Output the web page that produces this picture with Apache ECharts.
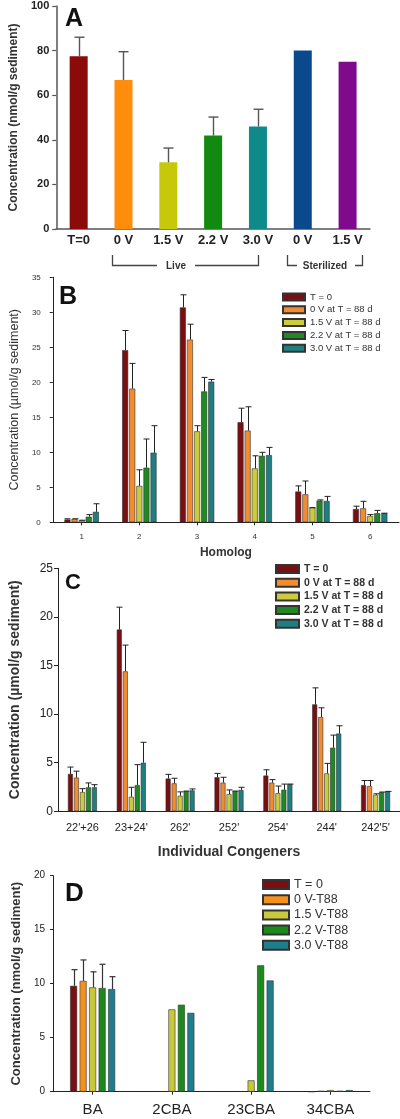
<!DOCTYPE html>
<html><head><meta charset="utf-8">
<script src="https://cdn.jsdelivr.net/npm/echarts@6/dist/echarts.min.js"></script>
<style>html,body{margin:0;padding:0;background:#fff}#c{width:400px;height:1119px}</style>
</head><body><div id="c"></div>
<script>
// ---------- DATA ----------
// Panel A
const catsA = ['T=0', '0 V', '1.5 V', '2.2 V', '3.0 V', '0 V', '1.5 V'];
const valsA = [77.5, 66.8, 29.9, 41.9, 46.0, 80.0, 75.0];
const errHiA = [86.0, 79.5, 36.3, 50.2, 53.7, null, null];
const ticksA = [0, 20, 40, 60, 80, 100];

// Panel B (homologs)
const catsB = ['1', '2', '3', '4', '5', '6'];
const namesBC = ['T = 0', '0 V at T = 88 d', '1.5 V at T = 88 d', '2.2 V at T = 88 d', '3.0 V at T = 88 d'];
const bT0 = [0.4, 24.6, 30.7, 14.3, 4.4, 1.9];
const b0V = [0.5, 19.1, 26.1, 13.1, 4.0, 2.0];
const b15V = [0.3, 5.2, 13.0, 7.7, 2.1, 0.9];
const b22V = [0.8, 7.8, 18.7, 9.5, 3.1, 1.3];
const b30V = [1.5, 9.95, 20.1, 9.6, 3.05, 1.3];
const bT0Hi = [0.5, 27.4, 32.5, 16.3, 5.2, 2.3];
const b0VHi = [0.5, 22.7, 28.3, 16.5, 5.9, 3.0];
const b15VHi = [0.3, 7.5, 13.8, 9.5, 2.1, 1.1];
const b22VHi = [1.1, 11.9, 20.7, 10.0, 3.2, 1.7];
const b30VHi = [2.65, 13.8, 20.4, 10.7, 3.7, 1.3];

// Panel C (individual congeners)
const catsC = ["22'+26", "23+24'", "262'", "252'", "254'", "244'", "242'5'"];
const cT0 = [3.85, 18.7, 3.37, 3.5, 3.68, 11.0, 2.7];
const c0V = [3.47, 14.4, 2.88, 2.95, 2.95, 9.7, 2.6];
const c15V = [1.98, 1.5, 1.6, 1.77, 1.87, 3.9, 1.7];
const c22V = [2.47, 2.7, 2.08, 2.08, 2.22, 6.54, 1.98];
const c30V = [2.47, 5.0, 2.15, 2.2, 2.8, 8.0, 2.05];
const cT0Hi = [4.55, 21.0, 3.8, 3.9, 4.27, 12.7, 3.17];
const c0VHi = [4.13, 17.1, 3.4, 3.5, 3.26, 10.65, 3.17];
const c15VHi = [2.33, 2.47, 2.0, 2.2, 2.6, 4.93, 1.8];
const c22VHi = [2.92, 4.8, 2.08, 2.08, 2.8, 7.84, 1.98];
const c30VHi = [2.74, 7.1, 2.3, 2.47, 2.8, 8.8, 2.05];

// Panel D (benzoates)
const catsD = ['BA', '2CBA', '23CBA', '34CBA'];
const namesD = ['T = 0', '0 V-T88', '1.5 V-T88', '2.2 V-T88', '3.0 V-T88'];
const dT0 = [9.8, null, null, 0];
const d0V = [10.25, null, null, 0.08];
const d15V = [9.66, 7.62, 1.05, 0.15];
const d22V = [9.6, 8.05, 11.7, 0.08];
const d30V = [9.5, 7.3, 10.3, 0.15];
const dT0Hi = [11.3, null, null, null];
const d0VHi = [12.2, null, null, null];
const d15VHi = [11.1, null, null, null];
const d22VHi = [11.8, null, null, null];
const d30VHi = [10.65, null, null, null];

// ---------- STYLE ----------
const FF = '"Liberation Sans", Arial, sans-serif';
const colorsA = ['#8B0A0A', '#FF8C0A', '#C8C80A', '#128A12', '#0E8A8A', '#0A4A8C', '#800A8C'];
const colorsBC = ['#7A0E10', '#F28C30', '#CBCB3C', '#1F8A24', '#1F7F80'];
const colorsD = ['#7A0E10', '#F5901E', '#C8C83C', '#1A8A1A', '#1E7E8E'];

function offset(i, n, bw, gap) {
  const total = n * bw + (n - 1) * gap;
  return -total / 2 + bw / 2 + i * (bw + gap);
}

function errSeries(idx, vals, his, off, cap, color, lw, id) {
  const data = [];
  vals.forEach((v, i) => { if (v != null && his[i] != null) data.push([i, v, his[i]]); });
  return {
    type: 'custom', id: id, xAxisIndex: idx, yAxisIndex: idx, z: 5, silent: true,
    encode: { x: 0, y: [1, 2] },
    data: data,
    renderItem: function (params, api) {
      const p0 = api.coord([api.value(0), api.value(1)]);
      const p1 = api.coord([api.value(0), api.value(2)]);
      const cx = Math.round(p0[0] + off) + 0.5;
      const st = { stroke: color, lineWidth: lw };
      return { type: 'group', children: [
        { type: 'line', shape: { x1: cx, y1: p0[1], x2: cx, y2: p1[1] }, style: st },
        { type: 'line', shape: { x1: cx - cap / 2, y1: p1[1], x2: cx + cap / 2, y2: p1[1] }, style: st }
      ]};
    }
  };
}

function groupedSeries(idx, names, colors, valsList, hiList, bw, gap, cap, errColor, errLw, border, bwd) {
  const out = [];
  const n = valsList.length;
  valsList.forEach((vals, i) => {
    out.push({
      type: 'bar', name: names[i], xAxisIndex: idx, yAxisIndex: idx,
      barWidth: bw, barGap: (gap / bw * 100) + '%',
      data: vals,
      itemStyle: { color: colors[i], borderColor: border, borderWidth: bwd },
      emphasis: { disabled: true }
    });
  });
  valsList.forEach((vals, i) => {
    out.push(errSeries(idx, vals, hiList[i], offset(i, n, bw, gap), cap, errColor, errLw, 'err' + idx + '_' + i));
  });
  return out;
}

const axisLine = (c, w) => ({ show: true, lineStyle: { color: c, width: w } });

const option = {
  animation: false,
  backgroundColor: '#fff',
  grid: [
    { left: 49, top: 6, width: 321, height: 223 },
    { left: 49, top: 277.3, width: 350, height: 245 },
    { left: 49, top: 568.3, width: 351, height: 243 },
    { left: 53, top: 875.7, width: 317, height: 216 }
  ],
  xAxis: [
    { gridIndex: 0, type: 'category', data: catsA, axisLine: axisLine('#555', 1.5), axisTick: { show: false },
      axisLabel: { margin: 5, fontFamily: FF, fontWeight: 'bold', fontSize: 13, color: '#222', interval: 0 } },
    { gridIndex: 1, type: 'category', data: catsB, axisLine: axisLine('#222', 1), axisTick: { show: true, alignWithLabel: true, length: 3, lineStyle: { color: '#222' } },
      axisLabel: { margin: 10, fontFamily: FF, fontSize: 8, color: '#333', interval: 0 },
      name: 'Homolog', nameLocation: 'middle', nameGap: 24, nameTextStyle: { fontFamily: FF, fontWeight: 'bold', fontSize: 12, color: '#333' } },
    { gridIndex: 2, type: 'category', data: catsC, axisLine: axisLine('#222', 1), axisTick: { show: false },
      axisLabel: { margin: 11, fontFamily: FF, fontSize: 11, color: '#222', interval: 0 },
      name: 'Individual Congeners', nameLocation: 'middle', nameGap: 34, nameTextStyle: { fontFamily: FF, fontWeight: 'bold', fontSize: 14, color: '#333' } },
    { gridIndex: 3, type: 'category', data: catsD, axisLine: axisLine('#222', 1), axisTick: { show: true, alignWithLabel: true, length: 3, lineStyle: { color: '#222' } },
      axisLabel: { margin: 11, fontFamily: FF, fontSize: 15, color: '#222', interval: 0 } }
  ],
  yAxis: [
    { gridIndex: 0, type: 'value', min: 0, max: 100, interval: 20, splitLine: { show: false },
      axisLine: axisLine('#555', 1.5), axisTick: { show: true, length: 4, lineStyle: { color: '#555', width: 1.2 } },
      axisLabel: { margin: 7, fontFamily: FF, fontWeight: 'bold', fontSize: 11, color: '#222', customValues: ticksA },
      name: 'Concentration (nmol/g sediment)', nameLocation: 'middle', nameGap: 34, nameRotate: 90,
      nameTextStyle: { fontFamily: FF, fontWeight: 'bold', fontSize: 12, color: '#333' } },
    { gridIndex: 1, type: 'value', min: 0, max: 35, interval: 5, splitLine: { show: false },
      axisLine: axisLine('#222', 1), axisTick: { show: true, length: 3, lineStyle: { color: '#222' } },
      axisLabel: { margin: 12, fontFamily: FF, fontSize: 8, color: '#333' },
      name: 'Concentration (\u00b5mol/g sediment)', nameLocation: 'middle', nameGap: 17, nameRotate: 90,
      nameTextStyle: { fontFamily: FF, fontSize: 12.5, color: '#333' } },
    { gridIndex: 2, type: 'value', min: 0, max: 25, interval: 5, splitLine: { show: false },
      axisLine: axisLine('#222', 1), axisTick: { show: true, length: 4, lineStyle: { color: '#222' } },
      axisLabel: { margin: 5, fontFamily: FF, fontSize: 12, color: '#222' },
      name: 'Concentration (\u00b5mol/g sediment)', nameLocation: 'middle', nameGap: 36, nameRotate: 90,
      nameTextStyle: { fontFamily: FF, fontWeight: 'bold', fontSize: 14, color: '#333' } },
    { gridIndex: 3, type: 'value', min: 0, max: 20, interval: 5, splitLine: { show: false },
      axisLine: axisLine('#222', 1), axisTick: { show: true, length: 3, lineStyle: { color: '#222' } },
      axisLabel: { margin: 8, fontFamily: FF, fontSize: 10, color: '#222' },
      name: 'Concentration (nmol/g sediment)', nameLocation: 'middle', nameGap: 13, nameRotate: 90,
      nameTextStyle: { fontFamily: FF, fontWeight: 'bold', fontSize: 13, color: '#333' } }
  ],
  legend: [
    { data: namesBC, orient: 'vertical', left: 282, top: 292, padding: 0, itemWidth: 22, itemHeight: 7, itemGap: 2.8, itemTextGap: 5,
      icon: 'rect', selectedMode: false, textStyle: { fontFamily: FF, fontSize: 9.5, lineHeight: 9, color: '#333' } },
    { data: namesBC, orient: 'vertical', left: 275, top: 563, padding: 0, itemWidth: 23, itemHeight: 8, itemGap: 1.7, itemTextGap: 7,
      icon: 'rect', selectedMode: false, textStyle: { fontFamily: FF, fontWeight: 'bold', fontSize: 10.5, lineHeight: 12, color: '#333' } },
    { data: namesD, orient: 'vertical', left: 262, top: 877, padding: 0, itemWidth: 26, itemHeight: 9, itemGap: 0.2, itemTextGap: 7,
      icon: 'rect', selectedMode: false, textStyle: { fontFamily: FF, fontSize: 12.5, lineHeight: 15, color: '#333' } }
  ],
  graphic: [
    { type: 'text', left: 65, top: 7, style: { text: 'A', font: 'bold 25px ' + FF, fill: '#111' } },
    { type: 'text', left: 59, top: 285, style: { text: 'B', font: 'bold 25px ' + FF, fill: '#111' } },
    { type: 'text', left: 65, top: 572, style: { text: 'C', font: 'bold 22px ' + FF, fill: '#111' } },
    { type: 'text', left: 65, top: 881, style: { text: 'D', font: 'bold 26px ' + FF, fill: '#111' } },
    // Live bracket
    { type: 'polyline', shape: { points: [[112.5, 255], [112.5, 265.5], [157, 265.5]] }, style: { stroke: '#444', lineWidth: 1.3, fill: null } },
    { type: 'polyline', shape: { points: [[195, 265.5], [258.5, 265.5], [258.5, 255]] }, style: { stroke: '#444', lineWidth: 1.3, fill: null } },
    { type: 'text', x: 176, y: 266, style: { text: 'Live', font: 'bold 10px ' + FF, fill: '#333', align: 'center', verticalAlign: 'middle' } },
    // Sterilized bracket
    { type: 'polyline', shape: { points: [[287.5, 255], [287.5, 265.5], [297, 265.5]] }, style: { stroke: '#444', lineWidth: 1.3, fill: null } },
    { type: 'polyline', shape: { points: [[355, 265.5], [362.5, 265.5], [362.5, 255]] }, style: { stroke: '#444', lineWidth: 1.3, fill: null } },
    { type: 'text', x: 325, y: 266, style: { text: 'Sterilized', font: 'bold 10px ' + FF, fill: '#333', align: 'center', verticalAlign: 'middle' } }
  ],
  series: [
    { type: 'bar', xAxisIndex: 0, yAxisIndex: 0, barWidth: 18,
      data: valsA.map((v, i) => ({ value: v, itemStyle: { color: colorsA[i] } })), emphasis: { disabled: true } },
    errSeries(0, valsA, errHiA, 0, 10, '#555', 1.4, 'errA')
  ]
    .concat(groupedSeries(1, namesBC, colorsBC, [bT0, b0V, b15V, b22V, b30V], [bT0Hi, b0VHi, b15VHi, b22VHi, b30VHi], 6, 1.1, 6, '#222', 1, '#333', 0.6))
    .concat(groupedSeries(2, namesBC, colorsBC, [cT0, c0V, c15V, c22V, c30V], [cT0Hi, c0VHi, c15VHi, c22VHi, c30VHi], 5, 1, 6, '#222', 1, '#333', 0.6))
    .concat(groupedSeries(3, namesD, colorsD, [dT0, d0V, d15V, d22V, d30V], [dT0Hi, d0VHi, d15VHi, d22VHi, d30VHi], 7, 2.5, 6, '#333', 1.2, '#333', 0.6))
};

const chart = echarts.init(document.getElementById('c'), null, { renderer: 'canvas' });
chart.setOption(option);
</script>
</body></html>
